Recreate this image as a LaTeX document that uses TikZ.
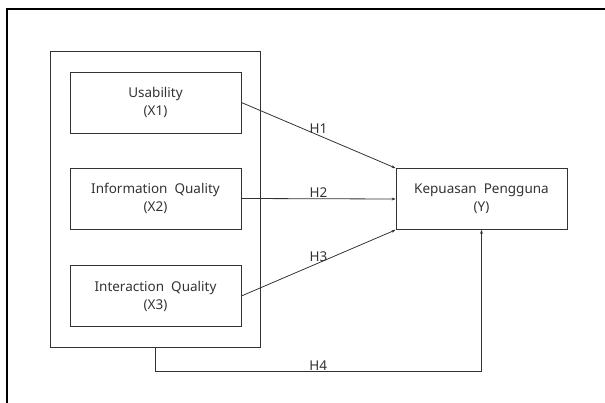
\documentclass[tikz,border=0pt]{standalone}
\usepackage{fontspec}
\setmainfont{Noto Sans}
\usetikzlibrary{arrows.meta}
\definecolor{ink}{HTML}{333333}
\tikzset{
  varbox/.style={draw=ink, line width=0.8pt, minimum width=171pt, minimum height=61pt,
    align=center, text=ink, font=\fontsize{13.5}{18}\selectfont, inner sep=0pt},
  conn/.style={draw=ink, line width=0.8pt, -{Stealth[length=4pt,width=3pt]}},
  hlab/.style={text=ink, font=\fontsize{13.5}{15}\selectfont, inner sep=1pt},
}
\begin{document}
\begin{tikzpicture}[x=1pt,y=-1pt]
\useasboundingbox (0,0) rectangle (605,403);
% outer frame
\draw[line width=1.3pt, black] (7,403) -- (7,9) -- (605,9);
% group box
\node[draw=ink, line width=0.8pt, minimum width=210pt, minimum height=296pt, inner sep=0pt] (grp) at (155,199) {};
\node[varbox] (u) at (155.5,102.5) {Usability\\(X1)};
\node[varbox] (i) at (155.5,198.5) {Information\ \ Quality\\(X2)};
\node[varbox] (q) at (155.5,296) {Interaction\ \ Quality\\(X3)};
\node[varbox] (y) at (481.5,199) {Kepuasan\ \ Pengguna\\(Y)};
\draw[conn] (u.east) -- node[hlab, pos=0.5, above] {H1} (y.north west);
\draw[conn] (i.east) -- node[hlab, pos=0.5, above] {H2} (y.west);
\draw[conn] (q.east) -- node[hlab, pos=0.5, above] {H3} (y.south west);
\draw[conn] (grp.south) -- ++(0,24) coordinate (h4a) -- node[hlab, pos=0.5, above] {H4} (h4a -| y.south) -- (y.south);
\end{tikzpicture}
\end{document}
